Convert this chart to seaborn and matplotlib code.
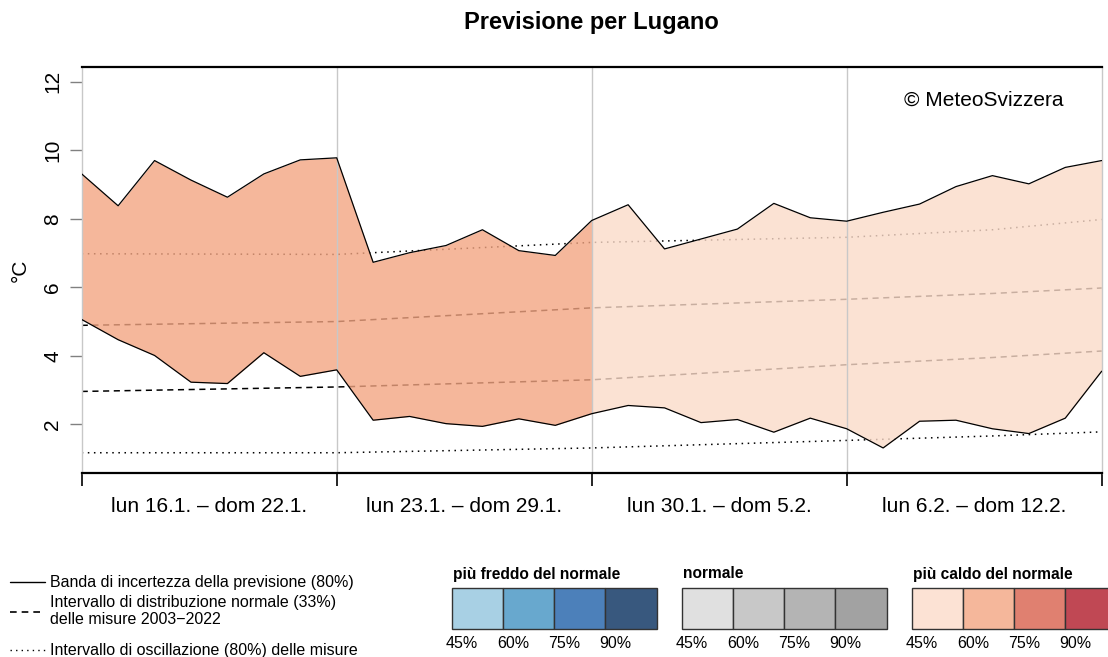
import numpy as np
import pandas as pd
import matplotlib
matplotlib.use("Agg")
import matplotlib.pyplot as plt
from matplotlib.patches import Rectangle
from matplotlib.colors import to_rgb
import seaborn as sns

# --- dati ---
giorni = list(range(29))  # 0 = lun 16.1.
banda_sup = [9.31, 8.38, 9.70, 9.13, 8.63, 9.31, 9.72, 9.78, 6.73, 7.01, 7.22, 7.68, 7.07, 6.93,
             7.95, 8.41, 7.12, 7.41, 7.70, 8.45, 8.03, 7.93, 8.19, 8.43, 8.94, 9.26, 9.02, 9.50, 9.70]
banda_inf = [5.06, 4.47, 4.01, 3.23, 3.19, 4.09, 3.40, 3.59, 2.12, 2.23, 2.02, 1.94, 2.16, 1.97,
             2.31, 2.55, 2.48, 2.05, 2.14, 1.77, 2.18, 1.87, 1.31, 2.09, 2.12, 1.87, 1.73, 2.18, 3.55]

# climatologia 2003-2022
giorni_clima = [0, 7, 14, 21, 25, 28]
norm_inf = [2.96, 3.09, 3.30, 3.74, 3.95, 4.14]
norm_sup = [4.89, 5.00, 5.40, 5.65, 5.82, 5.98]
osc_inf = [1.17, 1.17, 1.31, 1.53, 1.66, 1.78]
osc_sup = [6.98, 6.96, 7.31, 7.46, 7.68, 7.98]

# classe di probabilita' per periodo (giorno inizio, giorno fine, classe)
periodi_inizio = [0, 14]
periodi_fine = [14, 28]
periodi_classe = [1, 0]  # indice in colori_caldo

settimane = ["lun 16.1. – dom 22.1.", "lun 23.1. – dom 29.1.",
             "lun 30.1. – dom 5.2.", "lun 6.2. – dom 12.2."]

percentuali = ["45%", "60%", "75%", "90%"]
colori_freddo = ["#A8D0E4", "#68A8CE", "#4C80BA", "#38587E"]
colori_normale = ["#E0E0E0", "#C8C8C8", "#B4B4B4", "#A2A2A2"]
colori_caldo = ["#FCE2D4", "#F5B79B", "#E08070", "#C04854"]
gruppi_titoli = ["più freddo del normale", "normale", "più caldo del normale"]

sns.set_theme(style="white")
plt.rcParams['font.family'] = ['Liberation Sans', 'DejaVu Sans']
plt.rcParams.update({"text.color": "black", "axes.labelcolor": "black",
                     "xtick.color": "black", "ytick.color": "black"})

fig = plt.figure(figsize=(11.08, 6.57), dpi=100)
ax = fig.add_axes([81.7 / 1108, 1 - 473.3 / 657, 1020 / 1108, 406.6 / 657])

df_clima = pd.DataFrame({"giorno": giorni_clima, "ninf": norm_inf, "nsup": norm_sup,
                         "oinf": osc_inf, "osup": osc_sup})

# linee climatologiche (sotto la banda)
for col, ls in [("ninf", (0, (4, 3))), ("nsup", (0, (4, 3))),
                ("oinf", (0, (1, 3))), ("osup", (0, (1, 3)))]:
    sns.lineplot(data=df_clima, x="giorno", y=col, ax=ax, color="black",
                 linestyle=ls, lw=1.1, zorder=1)

# banda di incertezza, colorata per periodo
alpha = 0.8
gg = np.array(giorni)
for g0, g1, k in zip(periodi_inizio, periodi_fine, periodi_classe):
    rgb = np.array(to_rgb(colori_caldo[k]))
    c = np.clip((rgb - (1 - alpha)) / alpha, 0, 1)
    m = (gg >= g0) & (gg <= g1)
    ax.fill_between(gg[m], np.array(banda_inf)[m], np.array(banda_sup)[m],
                    color=c, alpha=alpha, lw=0, zorder=2)

df_banda = pd.DataFrame({"giorno": giorni, "sup": banda_sup, "inf": banda_inf})
sns.lineplot(data=df_banda, x="giorno", y="sup", ax=ax, color="black", lw=0.9, zorder=3)
sns.lineplot(data=df_banda, x="giorno", y="inf", ax=ax, color="black", lw=0.9, zorder=3)

# separatori settimanali
for g in [7, 14, 21]:
    ax.axvline(g, color="#C8C8C8", lw=1, zorder=2.5)

ax.set_xlim(0, 28)
ax.set_ylim(0.57, 12.44)

for s in ["left", "right"]:
    ax.spines[s].set_color("#C8C8C8")
    ax.spines[s].set_linewidth(1)
for s in ["top", "bottom"]:
    ax.spines[s].set_color("black")
    ax.spines[s].set_linewidth(1.6)

ax.set_xticks([0, 7, 14, 21, 28])
ax.set_xticklabels([])
ax.set_xticks([3.5, 10.5, 17.5, 24.5], minor=True)
ax.set_xticklabels(settimane, minor=True, fontsize=15, color="black")
ax.tick_params(axis="x", which="major", bottom=True, length=9, width=1.2, color="black", direction="out")
ax.tick_params(axis="x", which="minor", bottom=True, length=0, pad=17)

ax.set_yticks([2, 4, 6, 8, 10, 12])
ax.tick_params(axis="y", left=True, length=9, width=1, color="#808080", labelcolor="black",
               direction="out", labelsize=15, labelrotation=90, pad=5)
for lab in ax.get_yticklabels():
    lab.set_va("center")
ax.set_xlabel("")
ax.set_ylabel("°C", fontsize=15, labelpad=10, color="black")

ax.text(0.963, 0.918, "© MeteoSvizzera", transform=ax.transAxes, ha="right", va="center",
        fontsize=15, color="black")

fig.text(591.7 / 1108, 1 - 23 / 657, "Previsione per Lugano", ha="center", va="center",
         fontsize=17, fontweight="bold", color="black")

# --- legenda in basso (coordinate in pixel) ---
lax = fig.add_axes([0, 0, 1, 1])
lax.set_xlim(0, 1108)
lax.set_ylim(657, 0)
lax.axis("off")
lax.patch.set_visible(False)

lax.plot([10, 45], [582, 582], color="black", lw=1)
lax.plot([10, 45], [612, 612], color="black", lw=1.2, linestyle=(0, (4, 3)))
lax.plot([10, 45], [650, 650], color="black", lw=1, linestyle=(0, (1, 3)))
fs_leg = 11.5
lax.text(50, 582, "Banda di incertezza della previsione (80%)", fontsize=fs_leg, va="center")
lax.text(50, 603, "Intervallo di distribuzione normale (33%)", fontsize=fs_leg, va="center")
lax.text(50, 620, "delle misure 2003−2022", fontsize=fs_leg, va="center")
lax.text(50, 650, "Intervallo di oscillazione (80%) delle misure", fontsize=fs_leg, va="center")

x_gruppi = [451.7, 681.7, 911.7]
largh = 51.25
for x0, titolo, colori in zip(x_gruppi, gruppi_titoli, [colori_freddo, colori_normale, colori_caldo]):
    lax.text(x0 + 1, 574, titolo, fontsize=11.2, fontweight="bold", va="center", ha="left")
    for i, (c, p) in enumerate(zip(colori, percentuali)):
        lax.add_patch(Rectangle((x0 + i * largh, 588.3), largh, 41, facecolor=c,
                                edgecolor="#333333", lw=1))
        lax.text(x0 + i * largh + 10, 644, p, fontsize=11.5, ha="center", va="center")

fig.savefig("out.png", dpi=100)
